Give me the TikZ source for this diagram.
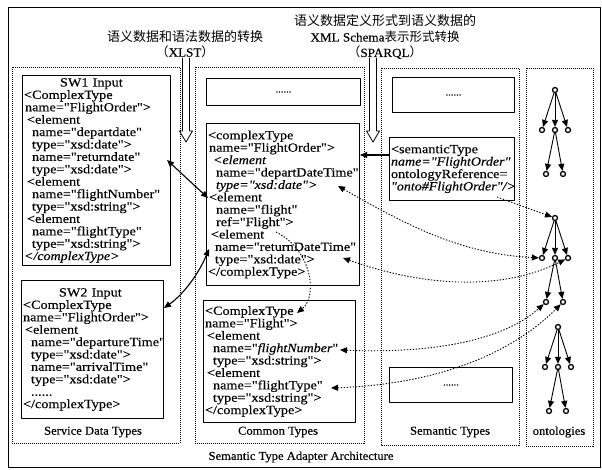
\documentclass[tikz,border=0pt]{standalone}
\usepackage{fontspec}
\setmainfont{Liberation Serif}[FakeStretch=1.05,FakeBold=0.3]
\newfontfamily\codefont{Liberation Serif}[FakeBold=0.3,UprightFeatures={FakeStretch=1.14},ItalicFeatures={FakeStretch=1.12}]
\newfontfamily\cjk{Noto Sans CJK SC}
\usetikzlibrary{arrows.meta}

\begin{document}
\begin{tikzpicture}
 [x=1pt,y=-1pt,line join=round,
 >={Triangle[length=7pt,width=6pt]},
 colframe/.style={dash pattern=on 1pt off 1pt,line width=0.8pt},
 code/.style={draw,line width=1pt,anchor=north west,align=left,inner xsep=1.5pt,inner ysep=0pt,
   font=\codefont\fontsize{12.5}{12.4}\selectfont},
 dots/.style={draw,line width=1pt,anchor=north west,align=center,inner sep=0pt},
 label/.style={font=\fontsize{12}{14}\selectfont},
 head/.style={font=\fontsize{12.5}{15.5}\selectfont},
 solidlink/.style={line width=1.1pt},
 dotlink/.style={dash pattern=on 1.4pt off 1.6pt,line width=0.9pt},
 onode/.style={circle,draw,line width=1.3pt,fill=white,inner sep=0pt,minimum size=5pt},
 oedge/.style={-{Triangle[length=7pt,width=6pt]},line width=0.9pt}]
\useasboundingbox (0,0) rectangle (602,470);

% outer frame
\draw[line width=0.9pt] (8,7) rectangle (600,467);

% transformation headings
\node[head,align=center] (xlst) at (185,44) {{\cjk\fontsize{13}{15.5}\selectfont 语义数据和语法数据的转换}\\{\cjk （}XLST{\cjk ）}};
\node[head,align=center] (sparql) at (385,37) {{\cjk\fontsize{13}{15.5}\selectfont 语义数据定义形式到语义数据的}\\XML Schema{\cjk 表示形式转换}\\{\cjk （}SPARQL{\cjk ）}};

% hollow down arrows
\foreach \x in {186,373}
{
	\draw [line width=0.8pt] (\x-3.5,58) -- (\x-3.5,131) -- (\x-6.5,131) -- (\x,142) -- (\x+6.5,131) -- (\x+3.5,131) -- (\x+3.5,58);
}

% columns
\draw[colframe] (12,67) rectangle (180,443);
\draw[colframe] (195,67) rectangle (364,443);
\draw[colframe] (381,68) rectangle (519,445);
\draw[colframe] (526,68) rectangle (593,446);

\node[label] (sdt) at (93,432) {Service Data Types};
\node[label] (ct) at (278,432) {Common Types};
\node[label] (st) at (450,432) {Semantic Types};
\node[label] (onto) at (559,432) {ontologies};
\node[label] (arch) at (301,457) {Semantic Type Adapter Architecture};

% service data types
\node[code,text width=145pt,minimum height=190pt] (swone) at (22,75) {%
\hspace*{36pt}SW1 Input\\
<ComplexType\\
\hspace*{1pt}name="FlightOrder">\\
\hspace*{3pt}<element\\
\hspace*{8pt}name="departdate"\\
\hspace*{8pt}type="xsd:date">\\
\hspace*{8pt}name="returndate"\\
\hspace*{8pt}type="xsd:date">\\
\hspace*{3pt}<element\\
\hspace*{8pt}name="flightNumber"\\
\hspace*{8pt}type="xsd:string">\\
\hspace*{3pt}<element\\
\hspace*{8pt}name="flightType"\\
\hspace*{8pt}type="xsd:string">\\
\textit{</complexType>}};

\node[code,text width=139pt,minimum height=138pt] (swtwo) at (21,280) {%
\hspace*{36pt}SW2 Input\\
<ComplexType\\
name="FlightOrder">\\
\hspace*{2pt}<element\\
\hspace*{8pt}name="departureTime"\\
\hspace*{8pt}type="xsd:date">\\
\hspace*{8pt}name="arrivalTime"\\
\hspace*{8pt}type="xsd:date">\\
\hspace*{8pt}......\\
</complexType>};

% common types
\node[dots,minimum width=154pt,minimum height=27pt] (cdots) at (206,78) {......};

\node[code,text width=150pt,minimum height=162pt] (corder) at (206,123) {%
<complexType\\
\hspace*{1pt}name="FlightOrder">\\
\hspace*{5pt}\textit{<element}\\
\hspace*{8pt}name="departDateTime"\\
\hspace*{8pt}\textit{type="xsd:date">}\\
\hspace*{1pt}<element\\
\hspace*{8pt}name="flight"\\
\hspace*{8pt}ref="Flight">\\
\hspace*{3pt}<element\\
\hspace*{7pt}name="returnDateTime"\\
\hspace*{7pt}type="xsd:date">\\
</complexType>};

\node[code,text width=149pt,minimum height=122pt] (cflight) at (203,300) {%
<ComplexType\\
name="Flight">\\
\hspace*{2pt}<element\\
\hspace*{8pt}name="\textit{flightNumber}"\\
\hspace*{8pt}type="xsd:string">\\
\hspace*{2pt}<element\\
\hspace*{8pt}name="flightType"\\
\hspace*{8pt}type="xsd:string">\\
</complexType>};

% semantic types
\node[dots,minimum width=122pt,minimum height=35pt] (sdots) at (392,77) {......};

\node[code,text width=122pt,minimum height=63pt] (stype) at (389,137) {%
<semanticType\\
\textit{name="FlightOrder"}\\
ontologyReference=\\
\textit{"onto\#FlightOrder"/>}};

\node[dots,minimum width=123pt,minimum height=35pt] (sdotsb) at (389,367) {......};

% ontologies: root, three children, two more under the middle one
\foreach \t/\x/\y in {a/555/90,b/555/218,c/558/327}
{
	\node[onode] (\t0) at (\x,\y) {};
	\node[onode] (\t1) at (\x-13,\y+40) {};
	\node[onode] (\t2) at (\x,\y+40) {};
	\node[onode] (\t3) at (\x+13,\y+40) {};
	\node[onode] (\t4) at (\x-9,\y+84) {};
	\node[onode] (\t5) at (\x+8,\y+84) {};
	\foreach \k in {1,2,3}
		\draw[oedge] (\t0) -- (\t\k);
	\draw[oedge] (\t2) -- (\t4);
	\draw[oedge] (\t2) -- (\t5);
}

% link ends on the type texts
\coordinate (swOneOut) at (167,160);
\coordinate (flightEl) at (208,198);
\coordinate (swTwoOut) at (164,308);
\coordinate (returnEl) at (209,249);
\coordinate (semIn) at (389,155);
\coordinate (orderEl) at (360,155);
\coordinate (departEl) at (338,186);
\coordinate (returnType) at (343,258);
\coordinate (numberEl) at (340,350);
\coordinate (typeEl) at (331,388);
\coordinate (semOut) at (497,197);
\coordinate (refEl) at (276,232);
\coordinate (flightHead) at (297,313);

\draw[solidlink,<->] (swOneOut) -- (flightEl);
\draw[solidlink,<->] (swTwoOut) .. controls +(20,-14) and +(-10,24) .. (returnEl);
\draw[solidlink,->] (semIn) -- (orderEl);

\draw[dotlink,<->] (departEl) .. controls +(70,40) and +(-80,-4) .. (b1);
\draw[dotlink,<->] (returnType) .. controls +(90,32) and +(-60,30) .. (b3);
\draw[dotlink,<->] (numberEl) .. controls +(100,4) and +(-40,36) .. (b4);
\draw[dotlink,<->] (typeEl) .. controls +(110,-4) and +(-50,50) .. (b5);
\draw[dotlink,->] (semOut) -- (b0);
\draw[dotlink,->] (refEl) .. controls (312,250) and (318,296) .. (flightHead);

\end{tikzpicture}
\end{document}
